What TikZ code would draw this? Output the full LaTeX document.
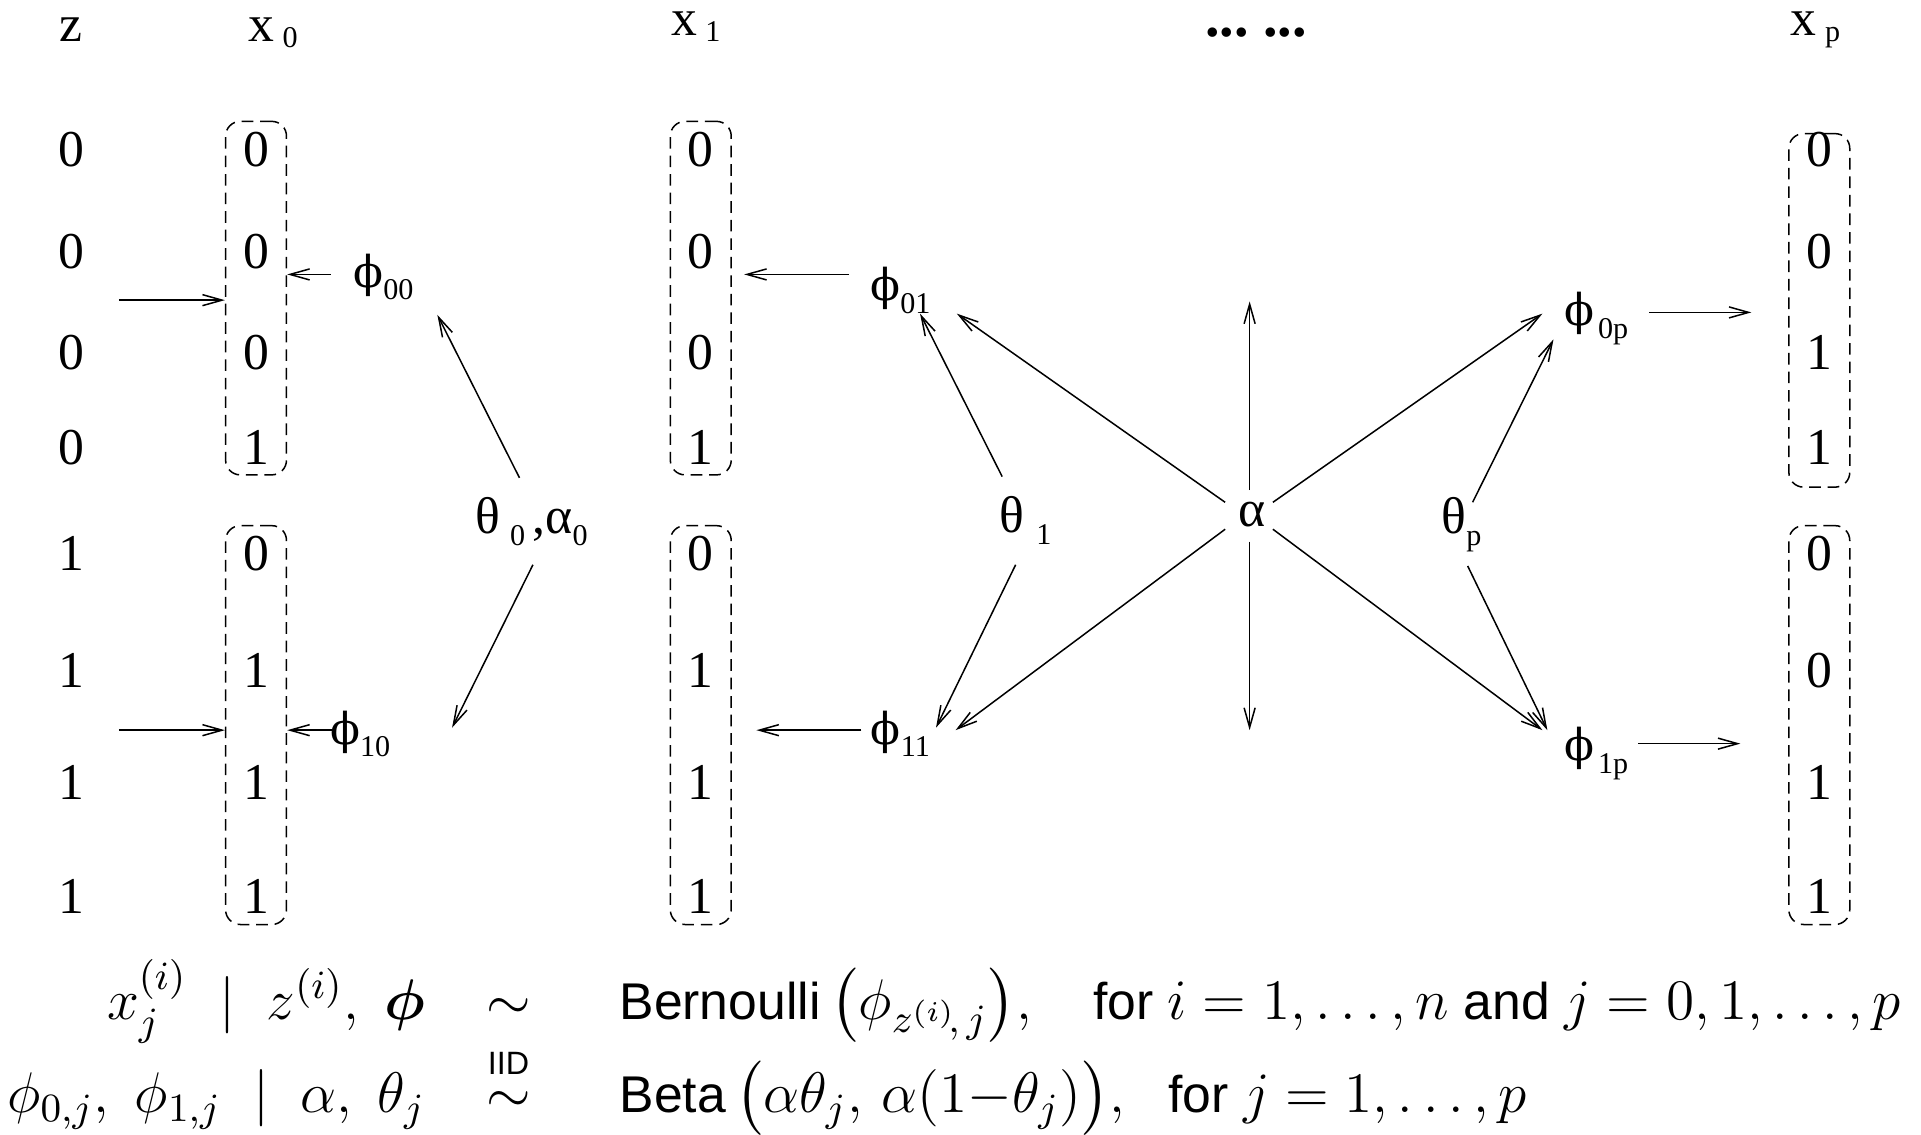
\RequirePackage{fix-cm}
\documentclass[tikz,border=0pt]{standalone}
\usepackage{amsmath}
\usepackage[no-math]{fontspec}
\setmainfont{Liberation Serif}
\setsansfont{Liberation Sans}
\newfontfamily\phifont{DejaVu Serif}[Scale=0.85]
\usetikzlibrary{arrows.meta,fit}
\newcommand{\phisym}{{\phifont ϕ}}
\newcommand{\sub}[1]{\raisebox{-1mm}{\fontsize{7}{8}\selectfont#1}}
\newcommand{\hsub}[1]{\hspace{0.7mm}\raisebox{-0.5mm}{\fontsize{7}{8}\selectfont#1}}
\newcommand{\tx}[1]{{\fontsize{12}{14}\selectfont\sffamily#1}}

\begin{document}
\begin{tikzpicture}[x=0.1mm,y=-0.1mm,
  every node/.style={inner sep=0pt,font=\fontsize{12}{14}\selectfont},
  group/.style={draw,rounded corners=1.2mm,dash pattern=on 2.7pt off 1.6pt,line width=0.35pt,inner xsep=1.36mm,inner ysep=0.8mm},
  link/.style={-{Straight Barb[length=1.6mm,width=0.9mm]},line width=0.35pt},
  eq/.style={font=\fontsize{13.3}{16}\selectfont}]
\useasboundingbox (0,0) rectangle (1568,926);
\node[anchor=base west] (hz) at (48,34) {z};
\node[anchor=base west] (hx0) at (202,34) {x\hsub{0}};
\node[anchor=base west] (hx1) at (547,29) {x\hsub{1}};
\node[anchor=base west,font=\fontsize{13.5}{15}\bfseries] (hdots) at (983,30) {...\ ...};
\node[anchor=base west] (hxp) at (1461,29) {x\hsub{p}};
\foreach \r/\y/\z/\u/\v/\w in {1/122/0/0/0/0,2/205/0/0/0/0,3/288/0/0/0/1,4/365/0/1/1/1,
  5/452/1/0/0/0,6/547/1/1/1/0,7/639/1/1/1/1,8/732/1/1/1/1}{
  \node (z\r) at (58,\y) {\z};
  \node (u\r) at (209,\y) {\u};
  \node (v\r) at (572,\y) {\v};
  \node (w\r) at (1485,\y) {\w};
}
\node[group,fit=(u1)(u4)] (box0a) {};
\node[group,fit=(u5)(u8)] (box0b) {};
\node[group,fit=(v1)(v4)] (box1a) {};
\node[group,fit=(v5)(v8)] (box1b) {};
\node[group,fit=(w1)(w4),yshift=-1mm] (boxpa) {};
\node[group,fit=(w5)(w8)] (boxpb) {};

\node (f00) at (313,226) {\phisym\sub{00}};
\node (f10) at (294,599) {\phisym\sub{10}};
\node (t0) at (434,426) {θ\hspace{0.8mm}\sub{0}\hspace{0.6mm},α\sub{0}};
\node (f01) at (735,237) {\phisym\sub{01}};
\node (f11) at (735,599) {\phisym\sub{11}};
\node (t1) at (837,425) {θ\hspace{1mm}\sub{1}};
\node (al) at (1022,420) {α};
\node (tp) at (1193,428) {θ\sub{p}};
\node (f0p) at (1303,260) {\phisym\hspace{0.3mm}\sub{0p}};
\node (f1p) at (1303,615) {\phisym\hspace{0.3mm}\sub{1p}};
\coordinate (zin0) at (97,245);
\coordinate (zin1) at (97,596);
\coordinate (aup) at (1020,246);
\coordinate (adn) at (1020,596);

\draw[link] (zin0) -- (zin0 -| box0a.west);
\draw[link] (zin1) -- (zin1 -| box0b.west);
\foreach \from/\dx/\dy/\tgt/\gap in {f00/-43/-2/box0a.east/0,f10/-23/-3/box0b.east/0,
  f01/-42/-13/box1a.east/10,f11/-32/-3/box1b.east/20,f0p/43/-5/boxpa.west/-30,f1p/34/-8/boxpb.west/-39}
  \draw[link] ([shift={(\dx,\dy)}]\from.center) coordinate (q) -- ([shift={(\gap,0)}]q -| \tgt);
\foreach \a/\ax/\ay/\b/\bx/\by in {t0/-10/-36/f00/44/31,t0/1/35/f10/75/-5,
  t1/-19/-36/f01/16/19,t1/-8/36/f11/29/-5,al/-22/-10/f01/46/19,al/-22/12/f11/45/-3,
  al/17/-10/f0p/-44/-4,al/17/12/f1p/-44/-19,tp/9/-18/f0p/-35/17,tp/5/34/f1p/-40/-19}
  \draw[link] ([shift={(\ax,\ay)}]\a.center) -- ([shift={(\bx,\by)}]\b.center);
\draw[link] ([shift={(-2,-20)}]al.center) -- (aup);
\draw[link] ([shift={(-2,22)}]al.center) -- (adn);

\node[eq,anchor=base east] (lhs1) at (348,832) {$x^{(i)}_j \;\mid\; z^{(i)},\; \boldsymbol{\phi}$};
\node[eq,anchor=base] (rel1) at (415,832) {$\sim$};
\node[eq,anchor=base west] (rhs1) at (505,832) {\tx{Bernoulli}\,$\bigl(\phi_{z^{(i)}\!,\,j}\bigr),$\hspace{5mm}\tx{for} $i=1,\ldots,n$ \tx{and} $j=0,1,\ldots,p$};
\node[eq,anchor=base east] (lhs2) at (348,908) {$\phi_{0,j},\; \phi_{1,j} \;\mid\; \alpha,\; \theta_j$};
\node[eq,anchor=base] (rel2) at (415,908) {$\overset{\raisebox{0.4mm}{\fontsize{7.5}{8}\selectfont\sffamily IID}}{\sim}$};
\node[eq,anchor=base west] (rhs2) at (505,908) {\tx{Beta}\,$\bigl(\alpha\theta_j,\, \alpha(1{-}\theta_j)\bigr),$\hspace{3.5mm}\tx{for} $j=1,\ldots,p$};
\end{tikzpicture}
\end{document}
